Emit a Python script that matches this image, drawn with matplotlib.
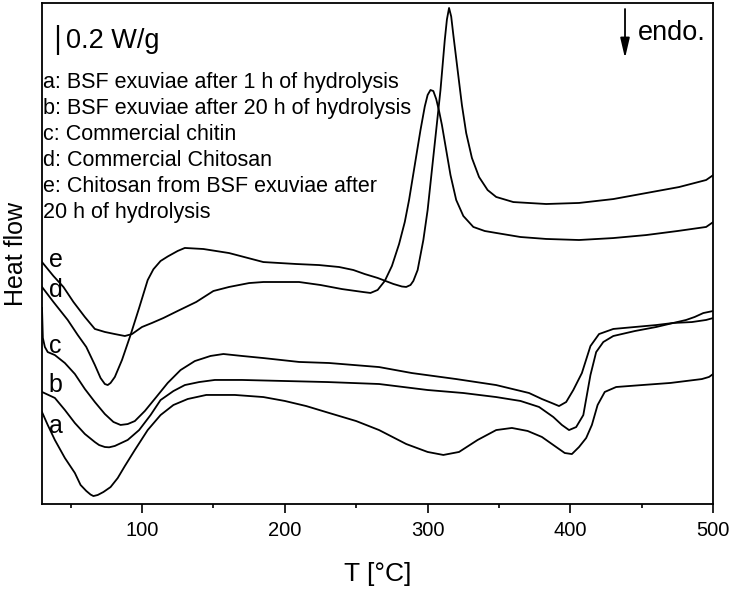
import matplotlib
matplotlib.use('Agg')
import matplotlib.pyplot as plt
from matplotlib.ticker import MultipleLocator
import matplotlib.transforms as mtransforms

plt.rcParams['font.family'] = ['Liberation Sans', 'DejaVu Sans']

# DSC curves, heat flow in W/g (curves shifted vertically, arbitrary offsets)
t_a = [30, 34, 39, 46, 53, 57, 61, 64, 66, 69, 73, 78, 83, 88, 95, 104, 113, 122, 132, 145,
       165, 185, 200, 215, 231, 250, 266, 285, 300, 311, 322, 335, 348, 359, 370, 380, 390, 396, 401, 406,
       411, 415, 419, 424, 432, 450, 470, 492, 497, 500]
hf_a = [0.613, 0.527, 0.427, 0.307, 0.207, 0.127, 0.087, 0.063, 0.053, 0.060,
        0.080, 0.113, 0.173, 0.253, 0.360, 0.493, 0.593, 0.660, 0.700, 0.727,
        0.727, 0.713, 0.687, 0.653, 0.607, 0.553, 0.493, 0.400, 0.347, 0.327,
        0.347, 0.427, 0.493, 0.507, 0.487, 0.447, 0.380, 0.340, 0.333, 0.380,
        0.440, 0.527, 0.660, 0.747, 0.780, 0.793, 0.807, 0.833, 0.847, 0.867]

t_b = [30, 39, 46, 53, 60, 67, 70, 74, 77, 81, 90, 98, 106, 113, 122, 130, 140, 151, 170, 200,
       230, 266, 300, 325, 348, 365, 378, 388, 394, 399, 404, 409, 414, 418, 423, 430, 445, 460, 472, 481,
       487, 493, 500]
hf_b = [0.747, 0.707, 0.627, 0.540, 0.467, 0.413, 0.393, 0.380, 0.378, 0.387,
        0.427, 0.493, 0.593, 0.693, 0.753, 0.793, 0.813, 0.827, 0.827, 0.820,
        0.813, 0.800, 0.760, 0.740, 0.713, 0.687, 0.647, 0.580, 0.527, 0.493,
        0.513, 0.593, 0.860, 1.013, 1.080, 1.120, 1.153, 1.180, 1.207, 1.227,
        1.247, 1.273, 1.287]

t_c = [30, 30.6, 32, 34, 39, 46, 53, 60, 67, 74, 80, 85, 90, 95, 102, 110, 118, 127, 137, 148,
       157, 170, 185, 210, 231, 266, 289, 320, 348, 371, 380, 387, 392, 397, 402, 408, 414, 420, 430, 445,
       460, 472, 485, 495, 500]
hf_c = [1.307, 1.107, 1.047, 1.013, 0.993, 0.940, 0.867, 0.767, 0.680, 0.600,
        0.547, 0.527, 0.533, 0.553, 0.620, 0.713, 0.807, 0.893, 0.953, 0.987,
        1.000, 0.987, 0.973, 0.947, 0.940, 0.913, 0.873, 0.833, 0.793, 0.740,
        0.700, 0.673, 0.653, 0.680, 0.760, 0.873, 1.053, 1.133, 1.167, 1.180,
        1.193, 1.207, 1.213, 1.227, 1.240]

t_d = [30, 38, 48, 55, 61, 67, 71, 74, 76, 78, 81, 86, 92, 98, 104, 108, 113, 118, 125, 130,
       143, 161, 185, 208, 224, 238, 248, 256, 265, 276, 282, 285, 288, 290, 293, 297, 300, 303, 306, 309,
       312, 313.5, 315, 316.5, 318, 321, 324, 327, 331, 336, 342, 348, 360, 383, 406, 430, 453, 476, 495, 500]
hf_d = [1.447, 1.347, 1.227, 1.127, 1.047, 0.927, 0.840, 0.800, 0.793, 0.807,
        0.847, 0.960, 1.127, 1.307, 1.493, 1.565, 1.620, 1.650, 1.687, 1.707,
        1.700, 1.673, 1.613, 1.600, 1.593, 1.580, 1.560, 1.533, 1.507, 1.467,
        1.450, 1.447, 1.460, 1.487, 1.560, 1.760, 1.960, 2.227, 2.493, 2.760,
        3.093, 3.230, 3.307, 3.250, 3.127, 2.893, 2.660, 2.473, 2.307, 2.180,
        2.093, 2.047, 2.013, 2.000, 2.007, 2.033, 2.073, 2.113, 2.160, 2.193]

t_e = [30, 38, 45, 52, 60, 67, 74, 81, 88, 93, 97, 100, 107, 115, 125, 138, 150, 161, 175, 185,
       200, 210, 225, 240, 255, 260, 265, 270, 275, 280, 284, 287, 291, 295, 298, 300, 302, 304, 306, 308,
       310, 313, 316, 320, 325, 332, 340, 348, 365, 383, 406, 430, 453, 475, 495, 500]
hf_e = [1.613, 1.520, 1.447, 1.347, 1.247, 1.167, 1.147, 1.133, 1.120, 1.133,
        1.160, 1.180, 1.207, 1.240, 1.287, 1.347, 1.420, 1.447, 1.473, 1.480,
        1.480, 1.480, 1.460, 1.433, 1.413, 1.407, 1.427, 1.487, 1.587, 1.733,
        1.880, 2.027, 2.260, 2.493, 2.650, 2.727, 2.760, 2.753, 2.700, 2.620,
        2.527, 2.360, 2.193, 2.027, 1.920, 1.847, 1.820, 1.807, 1.780, 1.767,
        1.760, 1.773, 1.793, 1.820, 1.847, 1.880]

curve_labels = ['a', 'b', 'c', 'd', 'e']
curve_label_y = [0.473, 0.747, 1.007, 1.380, 1.580]  # W/g, baseline of letters near left edge
legend_lines = [
    'a: BSF exuviae after 1 h of hydrolysis',
    'b: BSF exuviae after 20 h of hydrolysis',
    'c: Commercial chitin',
    'd: Commercial Chitosan',
    'e: Chitosan from BSF exuviae after',
    '20 h of hydrolysis',
]
scale_bar = 0.2  # W/g

fig = plt.figure(figsize=(7.33, 5.89), dpi=100)
ax = fig.add_axes([0.0573, 0.1443, 0.9158, 0.8506])

for t, hf in [(t_a, hf_a), (t_b, hf_b), (t_c, hf_c), (t_d, hf_d), (t_e, hf_e)]:
    ax.plot(t, hf, color='black', lw=1.3, solid_joinstyle='round')

ax.set_xlim(30, 500)
ax.set_ylim(0, 3.34)
ax.xaxis.set_major_locator(MultipleLocator(100))
ax.xaxis.set_minor_locator(MultipleLocator(50))
ax.set_yticks([])
ax.tick_params(axis='x', which='major', direction='out', length=6.5, width=1.2,
               labelsize=14.5, pad=6)
ax.tick_params(axis='x', which='minor', direction='out', length=3.2, width=1.2)
for s in ax.spines.values():
    s.set_linewidth(1.3)

ax.set_xlabel('T [°C]', fontsize=19)
ax.xaxis.set_label_coords(0.5, -0.116)
ax.set_ylabel('Heat flow', fontsize=18)
ax.yaxis.set_label_coords(-0.021, 0.5)

blend = mtransforms.blended_transform_factory(ax.transAxes, ax.transData)

# curve letters at left
for lab, yv in zip(curve_labels, curve_label_y):
    ax.text(0.010, yv, lab, fontsize=18, transform=blend, ha='left', va='baseline')

# scale bar + text
ax.plot([0.0243, 0.0243], [3.193 - scale_bar, 3.193], color='black', lw=1.6, transform=blend,
        solid_capstyle='butt')
ax.text(0.0353, 3.038, '0.2 W/g', fontsize=19.5, transform=blend, ha='left', va='baseline')

# description lines
for i, line in enumerate(legend_lines):
    ax.text(0.002, 0.831 - i * 0.0519, line, fontsize=15.5, transform=ax.transAxes,
            ha='left', va='baseline')

# endo arrow
ax.annotate('', xy=(0.8685, 0.890), xytext=(0.8685, 0.988), xycoords='axes fraction',
            arrowprops=dict(arrowstyle='-|>,head_length=1.2,head_width=0.28', color='black',
                            lw=1.3, mutation_scale=10, shrinkA=0, shrinkB=0))
ax.text(0.888, 0.926, 'endo.', fontsize=19.5, transform=ax.transAxes, ha='left', va='baseline')

fig.savefig('out.png', dpi=100)
